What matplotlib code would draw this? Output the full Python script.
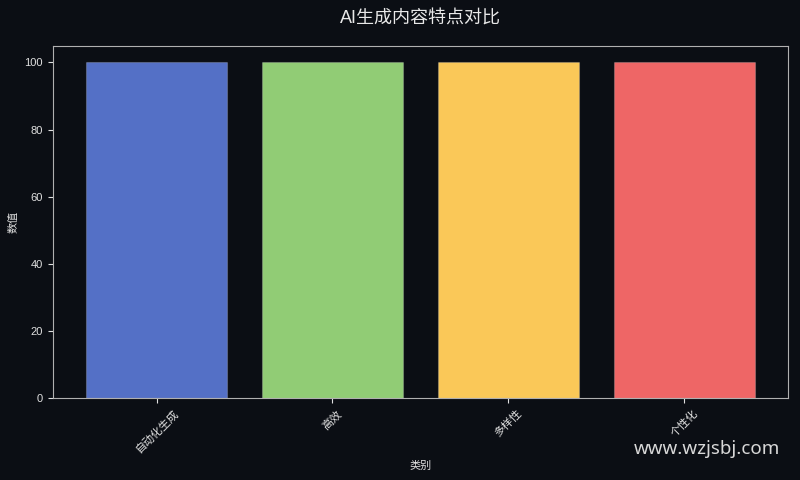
import matplotlib.pyplot as plt

plt.rcParams['font.family'] = ['Liberation Sans', 'Noto Sans CJK SC', 'DejaVu Sans']

# 数据
categorias = ['自动化生成', '高效', '多样性', '个性化']
valores = [100, 100, 100, 100]
colores = ['#5470c6', '#91cc75', '#fac858', '#ee6666']

bg = '#0b0e14'
fig, ax = plt.subplots(figsize=(8, 4.8), dpi=100)
fig.patch.set_facecolor(bg)
ax.set_facecolor(bg)

ax.bar(categorias, valores, color=colores, edgecolor='#ffffff30', linewidth=0.8)

ax.set_title('AI生成内容特点对比', color='#e8e8e8', fontsize=13, pad=16)
ax.set_xlabel('类别', color='#e0e0e0', fontsize=8)
ax.set_ylabel('数值', color='#e0e0e0', fontsize=8)
ax.tick_params(colors='#e0e0e0', labelsize=8)
plt.setp(ax.get_xticklabels(), rotation=45)
for s in ax.spines.values():
    s.set_color('#b0b0b0')

fig.subplots_adjust(left=0.066, right=0.985, top=0.905, bottom=0.17)
fig.text(0.975, 0.065, 'www.wzjsbj.com', color='#d8d8d8', fontsize=13.5,
         ha='right', va='center', family=['Noto Sans', 'DejaVu Sans'])

plt.savefig('out.png', facecolor=bg)
